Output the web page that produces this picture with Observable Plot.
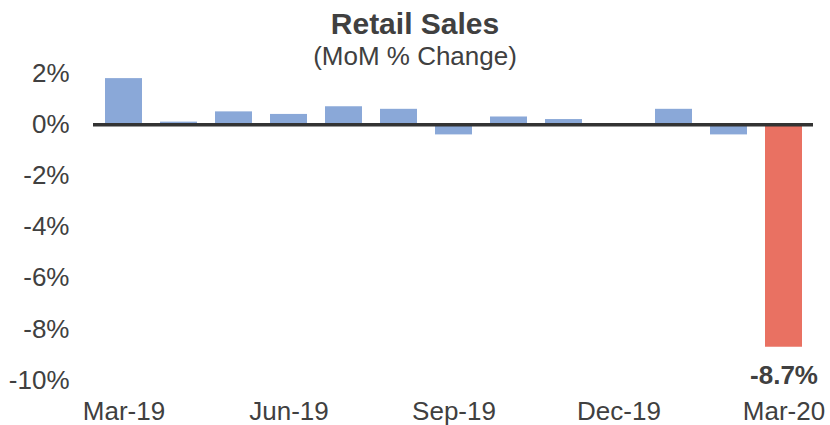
<!DOCTYPE html>
<html>
<head>
<meta charset="utf-8">
<script src="https://cdn.jsdelivr.net/npm/d3@7"></script>
<script src="https://cdn.jsdelivr.net/npm/@observablehq/plot@0.6"></script>
<style>
  html, body { margin: 0; padding: 0; background: #fff; }
  #wrap { position: relative; width: 830px; height: 425px; font-family: "Liberation Sans", Arial, sans-serif; color: #404040; }
  #title { position: absolute; left: 0; width: 830px; top: 9px; text-align: center; font-size: 30px; line-height: 30px; font-weight: bold; }
  #subtitle { position: absolute; left: 0; width: 830px; top: 43px; text-align: center; font-size: 26px; line-height: 26px; }
  #chart { position: absolute; left: 0; top: 0; }
</style>
</head>
<body>
<div id="wrap">
  <div id="chart"></div>
  <div id="title">Retail Sales</div>
  <div id="subtitle">(MoM % Change)</div>
</div>
<script>
const months = ["Mar-19","Apr-19","May-19","Jun-19","Jul-19","Aug-19","Sep-19","Oct-19","Nov-19","Dec-19","Jan-20","Feb-20","Mar-20"];
const values = [1.8, 0.1, 0.5, 0.4, 0.7, 0.6, -0.4, 0.3, 0.2, 0.0, 0.6, -0.4, -8.7];
const xTicks = ["Mar-19","Jun-19","Sep-19","Dec-19","Mar-20"];
const yTicks = [2, 0, -2, -4, -6, -8, -10];
const highlight = "Mar-20";
const highlightLabel = "-8.7%";

const data = months.map((m, i) => ({month: m, value: values[i]}));
const last = data.filter(d => d.month === highlight);

const chart = Plot.plot({
  width: 830,
  height: 425,
  marginLeft: 93,
  marginRight: 17,
  marginTop: 73,
  marginBottom: 45,
  style: {fontFamily: "'Liberation Sans', Arial, sans-serif", fontSize: "26px", color: "#404040", background: "transparent"},
  x: {domain: months, paddingInner: 0.33, paddingOuter: 0.165, label: null},
  y: {domain: [-10, 2], label: null},
  marks: [
    Plot.barY(data, {x: "month", y: "value", fill: d => d.month === highlight ? "#E97162" : "#8AA8D8"}),
    Plot.ruleY([0], {stroke: "#333333", strokeWidth: 3.5}),
    Plot.axisX({ticks: xTicks, tickSize: 0, tickPadding: 21, fontSize: 26, label: null}),
    Plot.axisY({ticks: yTicks, tickSize: 0, tickPadding: 24, tickFormat: d => d + "%", fontSize: 26, label: null}),
    Plot.text(last, {x: "month", y: "value", text: () => highlightLabel, dy: 28, lineAnchor: "middle", fontWeight: "bold", fontSize: 26, fill: "#404040"})
  ]
});
document.getElementById("chart").appendChild(chart);
</script>
</body>
</html>
